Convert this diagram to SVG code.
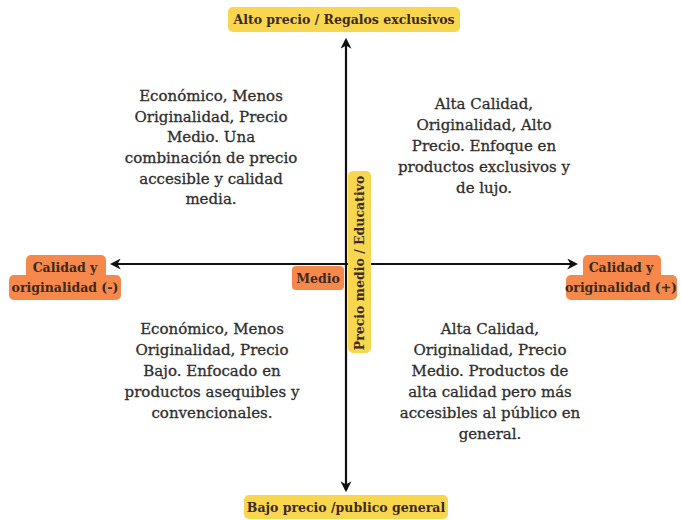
<svg xmlns="http://www.w3.org/2000/svg" width="681" height="520" viewBox="0 0 681 520">
<style>
.t{font-family:"DejaVu Serif","Liberation Serif",serif;fill:#2e2e2e;text-anchor:middle}
.q{font-size:15px;stroke:#2e2e2e;stroke-width:0.3}
.l{font-size:12.5px;font-weight:bold;fill:#3a2a22}
.y{fill:#f8d64e}
.o{fill:#f5884a}
.ax{stroke:#111;stroke-width:2.2;fill:none}
</style>
<defs>
<marker id="ah" viewBox="0 0 10 10" refX="8" refY="5" markerWidth="5" markerHeight="5" orient="auto-start-reverse" markerUnits="strokeWidth">
<path d="M0,0 L10,5 L0,10 L3,5 Z" fill="#111"/>
</marker>
</defs>
<rect width="681" height="520" fill="#fff"/>
<g id="connectors">
<line class="ax" x1="346" y1="40" x2="346" y2="490" marker-start="url(#ah)" marker-end="url(#ah)"/>
<line class="ax" x1="112" y1="264" x2="576" y2="264" marker-start="url(#ah)" marker-end="url(#ah)"/>
</g>
<g id="top">
<rect class="y" x="228" y="7" width="232" height="25" rx="5"/>
<text class="t l" x="344" y="24">Alto precio / Regalos exclusivos</text>
</g>
<g id="bottom">
<rect class="y" x="244" y="495" width="204" height="24" rx="5"/>
<text class="t l" x="346" y="512">Bajo precio /publico general</text>
</g>
<g id="left">
<rect class="o" x="26" y="255" width="80" height="26" rx="5"/>
<rect class="o" x="9" y="275" width="112" height="25" rx="5"/>
<text class="t l" x="65" y="272">Calidad y</text>
<text class="t l" x="65" y="292">originalidad (-)</text>
</g>
<g id="right">
<rect class="o" x="583" y="255" width="78" height="26" rx="5"/>
<rect class="o" x="566" y="275" width="111" height="25" rx="5"/>
<text class="t l" x="621" y="272">Calidad y</text>
<text class="t l" x="621" y="292">originalidad (+)</text>
</g>
<g id="medio">
<rect class="o" x="292" y="266" width="52" height="24" rx="4"/>
<text class="t l" x="318" y="283">Medio</text>
</g>
<g id="vertical">
<rect class="y" x="348" y="171" width="23" height="182" rx="5"/>
<text class="t l" transform="translate(364,263) rotate(-90)" x="0" y="0">Precio medio / Educativo</text>
</g>
<g id="q1">
<text class="t q" x="211" y="101">Económico, Menos</text>
<text class="t q" x="211" y="122">Originalidad, Precio</text>
<text class="t q" x="211" y="142">Medio. Una</text>
<text class="t q" x="211" y="163">combinación de precio</text>
<text class="t q" x="211" y="184">accesible y calidad</text>
<text class="t q" x="211" y="204">media.</text>
</g>
<g id="q2">
<text class="t q" x="484" y="109">Alta Calidad,</text>
<text class="t q" x="484" y="130">Originalidad, Alto</text>
<text class="t q" x="484" y="151">Precio. Enfoque en</text>
<text class="t q" x="484" y="172">productos exclusivos y</text>
<text class="t q" x="484" y="193">de lujo.</text>
</g>
<g id="q3">
<text class="t q" x="212" y="334">Económico, Menos</text>
<text class="t q" x="212" y="355">Originalidad, Precio</text>
<text class="t q" x="212" y="376">Bajo. Enfocado en</text>
<text class="t q" x="212" y="397">productos asequibles y</text>
<text class="t q" x="212" y="418">convencionales.</text>
</g>
<g id="q4">
<text class="t q" x="490" y="334">Alta Calidad,</text>
<text class="t q" x="490" y="355">Originalidad, Precio</text>
<text class="t q" x="490" y="376">Medio. Productos de</text>
<text class="t q" x="490" y="397">alta calidad pero más</text>
<text class="t q" x="490" y="418">accesibles al público en</text>
<text class="t q" x="490" y="439">general.</text>
</g>
</svg>
